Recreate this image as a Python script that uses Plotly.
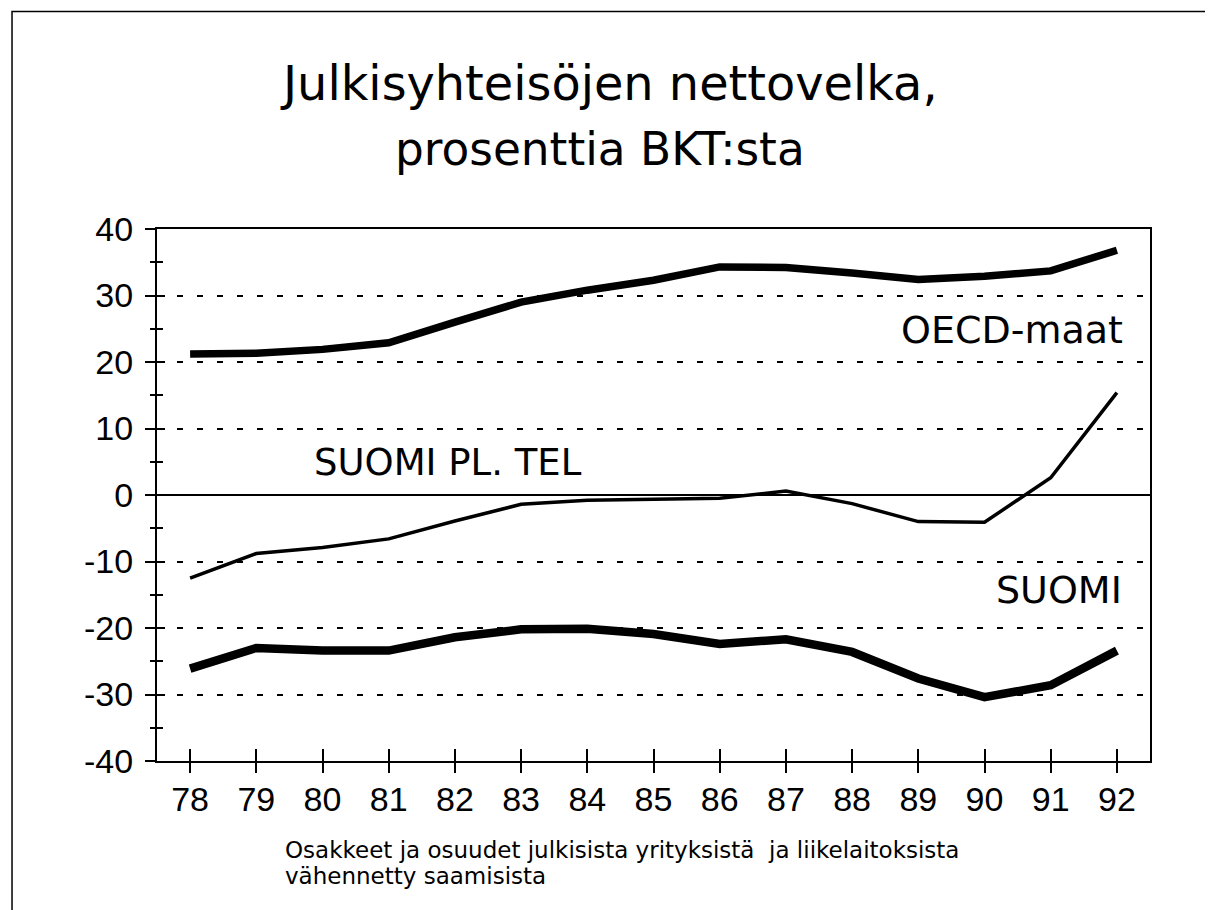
import plotly.graph_objects as go

# ---- data ----
years = [78, 79, 80, 81, 82, 83, 84, 85, 86, 87, 88, 89, 90, 91, 92]
year_labels = ["78", "79", "80", "81", "82", "83", "84", "85", "86", "87", "88", "89", "90", "91", "92"]
oecd = [21.2, 21.3, 21.9, 22.9, 26.0, 29.0, 30.8, 32.3, 34.3, 34.2, 33.4, 32.4, 32.9, 33.7, 36.8]
suomi_pl_tel = [-12.5, -8.8, -7.9, -6.6, -3.9, -1.4, -0.8, -0.6, -0.5, 0.6, -1.3, -4.0, -4.1, 2.6, 15.4]
suomi = [-26.1, -23.0, -23.4, -23.4, -21.4, -20.2, -20.1, -20.9, -22.4, -21.7, -23.6, -27.6, -30.4, -28.6, -23.4]
y_ticks = [40, 30, 20, 10, 0, -10, -20, -30, -40]
y_labels = ["40", "30", "20", "10", "0", "-10", "-20", "-30", "-40"]

title_line1 = "Julkisyhteisöjen nettovelka,"
title_line2 = "prosenttia BKT:sta"
note_line1 = "Osakkeet ja osuudet julkisista yrityksistä\u00a0 ja liikelaitoksista"
note_line2 = "vähennetty saamisista"

TEXT_FONT = "DejaVu Sans"
NUM_FONT = "Liberation Sans"
INK = "black"

fig = go.Figure()

fig.add_trace(go.Scatter(x=years, y=oecd, mode="lines", name="OECD-maat",
                         line=dict(color=INK, width=7.5), showlegend=False, hoverinfo="x+y"))
fig.add_trace(go.Scatter(x=years, y=suomi_pl_tel, mode="lines", name="SUOMI PL. TEL",
                         line=dict(color=INK, width=3.5), showlegend=False, hoverinfo="x+y"))
fig.add_trace(go.Scatter(x=years, y=suomi, mode="lines", name="SUOMI",
                         line=dict(color=INK, width=8.5), showlegend=False, hoverinfo="x+y"))
# helper trace so the overlaying axes (inner half of the crossing ticks) are drawn
fig.add_trace(go.Scatter(x=[], y=[], xaxis="x2", yaxis="y2", showlegend=False, hoverinfo="skip"))

xr = [77.5, 92.5]
yr = [-40, 40]

fig.update_layout(
    width=1205, height=902,
    margin=dict(l=149, r=63, t=221, b=149),
    paper_bgcolor="white", plot_bgcolor="white",
    showlegend=False,
    xaxis=dict(range=xr, tickvals=years, ticktext=year_labels,
               ticks="outside", ticklen=10, tickwidth=1.5, tickcolor=INK,
               showline=True, linecolor=INK, linewidth=2, mirror=True,
               showgrid=False, zeroline=False,
               tickfont=dict(family=NUM_FONT, size=34, color=INK),
               ticklabelstandoff=-3),
    yaxis=dict(range=yr, tickvals=y_ticks, ticktext=y_labels,
               ticks="outside", ticklen=10, tickwidth=1.5, tickcolor=INK,
               showline=True, linecolor=INK, linewidth=2, mirror=True,
               showgrid=True, gridcolor=INK, gridwidth=1.5, griddash="6px,14px",
               zeroline=True, zerolinecolor=INK, zerolinewidth=1.5,
               minor=dict(dtick=5, tick0=0, ticks="outside", ticklen=5,
                          tickwidth=1.5, tickcolor=INK, showgrid=False),
               tickfont=dict(family=NUM_FONT, size=34, color=INK),
               ticklabelstandoff=5),
    xaxis2=dict(range=xr, overlaying="x", anchor="y", side="bottom",
                tickvals=years, ticks="inside", ticklen=12, tickwidth=1.5, tickcolor=INK,
                showticklabels=False, showline=False, showgrid=False, zeroline=False),
    yaxis2=dict(range=yr, overlaying="y", anchor="x", side="left",
                tickvals=y_ticks, ticks="inside", ticklen=8, tickwidth=1.5, tickcolor=INK,
                minor=dict(dtick=5, tick0=0, ticks="inside", ticklen=6,
                           tickwidth=1.5, tickcolor=INK, showgrid=False),
                showticklabels=False, showline=False, showgrid=False, zeroline=False),
)

# outer frame of the page (left and top edges visible in the scan)
fig.add_shape(type="rect", xref="paper", yref="paper",
              x0=-0.146, x1=1.2, y0=-0.4, y1=1.4088,
              line=dict(color=INK, width=1.5), fillcolor="rgba(0,0,0,0)", layer="below")

# title (two lines)
fig.add_annotation(text=title_line1, xref="paper", yref="paper", x=0.455, y=1.274,
                   xanchor="center", yanchor="middle", showarrow=False,
                   font=dict(family=TEXT_FONT, size=47.8, color=INK))
fig.add_annotation(text=title_line2, xref="paper", yref="paper", x=0.446, y=1.149,
                   xanchor="center", yanchor="middle", showarrow=False,
                   font=dict(family=TEXT_FONT, size=45.4, color=INK))

# series labels
fig.add_annotation(text="OECD-maat", x=92.12, y=24.85, xanchor="right", yanchor="middle",
                   showarrow=False, font=dict(family=TEXT_FONT, size=38, color=INK))
fig.add_annotation(text="SUOMI PL. TEL", x=79.84, y=4.9, xanchor="left", yanchor="middle",
                   showarrow=False, font=dict(family=TEXT_FONT, size=37, color=INK))
fig.add_annotation(text="SUOMI", x=92.1, y=-14.3, xanchor="right", yanchor="middle",
                   showarrow=False, font=dict(family=TEXT_FONT, size=38, color=INK))

# footnote
fig.add_annotation(text=note_line1, xref="paper", yref="paper", x=0.1269, y=-0.167,
                   xanchor="left", yanchor="middle", showarrow=False,
                   font=dict(family=TEXT_FONT, size=23, color=INK))
fig.add_annotation(text=note_line2, xref="paper", yref="paper", x=0.1269, y=-0.216,
                   xanchor="left", yanchor="middle", showarrow=False,
                   font=dict(family=TEXT_FONT, size=23, color=INK))

fig.write_html("out.html")
